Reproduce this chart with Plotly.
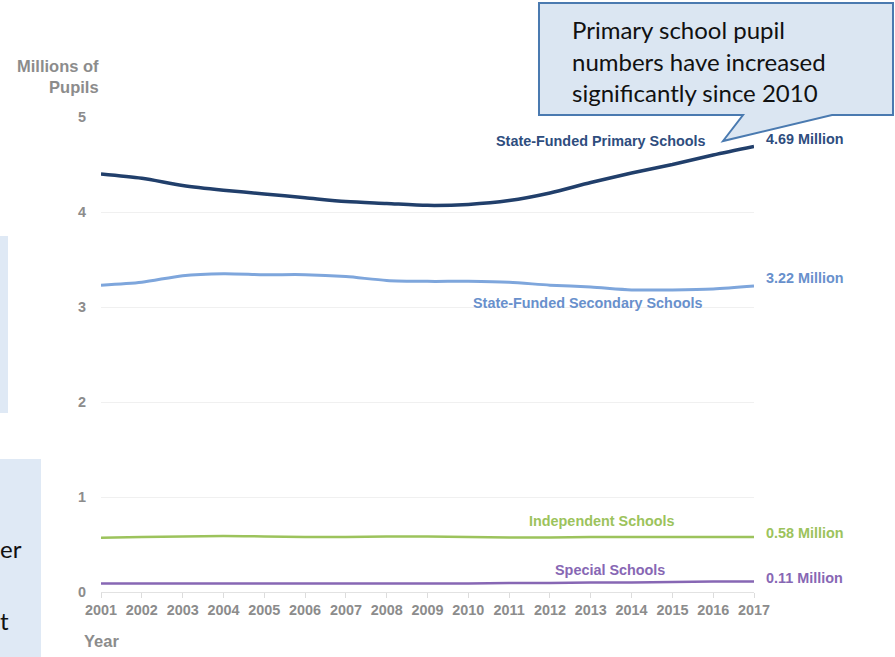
import plotly.graph_objects as go

# ---- data -------------------------------------------------------------
years = list(range(2001, 2018))
primary = [4.40, 4.355, 4.28, 4.23, 4.19, 4.15, 4.11, 4.09, 4.07, 4.08,
           4.12, 4.20, 4.31, 4.41, 4.50, 4.60, 4.69]
secondary = [3.23, 3.26, 3.33, 3.35, 3.34, 3.34, 3.32, 3.28, 3.27, 3.27,
             3.26, 3.23, 3.21, 3.18, 3.18, 3.19, 3.22]
independent = [0.57, 0.58, 0.585, 0.59, 0.585, 0.58, 0.58, 0.585, 0.585, 0.58,
               0.575, 0.575, 0.58, 0.58, 0.58, 0.58, 0.58]
special = [0.09, 0.09, 0.09, 0.09, 0.09, 0.09, 0.09, 0.09, 0.09, 0.09,
           0.095, 0.095, 0.10, 0.10, 0.105, 0.11, 0.11]

series_names = ["State-Funded Primary Schools", "State-Funded Secondary Schools",
                "Independent Schools", "Special Schools"]
y_ticks = [0, 1, 2, 3, 4, 5]
callout_lines = ["Primary school pupil", "numbers have increased",
                 "significantly since 2010"]

# ---- layout geometry (pixels) ----------------------------------------
W, H = 895, 657
PL, PR, PT, PB = 101, 754, 117, 592


def px(x):
    return (x - PL) / (PR - PL)


def py(y):
    return (PB - y) / (PB - PT)


GRAY = "#8c8c8c"
TICKFONT = dict(family="Arial", size=14.4, color=GRAY, weight="bold")
TITLEFONT = dict(family="Arial", size=16.5, color=GRAY, weight="bold")
NOTEFONT = dict(family="Lato", size=24, color="#111111")

series = [
    (series_names[0], primary, "#213f6b", 3.5, "#2e4d7e", 2013.25, 4.75, 7),
    (series_names[1], secondary, "#7ea6dc", 3.0, "#6890cc", 2012.93, 3.04, 8),
    (series_names[2], independent, "#9cc35c", 2.5, "#9cc35c", 2013.28, 0.75, 4),
    (series_names[3], special, "#8767b4", 2.5, "#8767b4", 2013.47, 0.23, 4),
]

fig = go.Figure()
annotations = []
for name, vals, color, width, tcolor, lx, ly, yshift in series:
    fig.add_trace(go.Scatter(
        x=years, y=vals, mode="lines", name=name,
        line=dict(color=color, width=width, shape="spline", smoothing=0.8),
        hoverinfo="skip", showlegend=False,
    ))
    # series name placed beside its line
    annotations.append(dict(
        x=lx, y=ly, xref="x", yref="y", text=name, showarrow=False,
        font=dict(family="Arial", size=14.4, color=tcolor, weight="bold"),
        xanchor="center", yanchor="middle",
    ))
    # end value label
    annotations.append(dict(
        x=years[-1], y=vals[-1], xref="x", yref="y",
        text=f"{vals[-1]:.2f} Million", showarrow=False,
        font=dict(family="Arial", size=14.4, color=tcolor, weight="bold"),
        xanchor="left", yanchor="middle", xshift=10, yshift=yshift,
    ))

# axis titles
annotations.append(dict(
    x=px(101), y=py(77), xref="paper", yref="paper",
    text="Millions of<br>Pupils", showarrow=False, align="right",
    xanchor="right", yanchor="middle", font=TITLEFONT,
))
annotations.append(dict(
    x=px(82), y=py(641), xref="paper", yref="paper",
    text="Year", showarrow=False, xanchor="left", yanchor="middle",
    font=TITLEFONT,
))

# callout text
for i, line in enumerate(callout_lines):
    annotations.append(dict(
        x=px(570), y=py(30 + 31.5 * i), xref="paper", yref="paper",
        text=line, showarrow=False, xanchor="left", yanchor="middle",
        font=NOTEFONT,
    ))

# partially visible side panels' text
annotations.append(dict(
    x=px(-2), y=py(548), xref="paper", yref="paper", text="er",
    showarrow=False, xanchor="left", yanchor="middle", font=NOTEFONT,
))
annotations.append(dict(
    x=px(-2), y=py(620), xref="paper", yref="paper", text="t",
    showarrow=False, xanchor="left", yanchor="middle", font=NOTEFONT,
))

shapes = []
# side panels cut off at the left edge
shapes.append(dict(type="rect", xref="paper", yref="paper",
                   x0=px(-5), x1=px(8), y0=py(236), y1=py(413),
                   fillcolor="#dfe9f5", line=dict(width=0), layer="below"))
shapes.append(dict(type="rect", xref="paper", yref="paper",
                   x0=px(-5), x1=px(41), y0=py(459), y1=py(665),
                   fillcolor="#dfe9f5", line=dict(width=0), layer="below"))

# speech-bubble callout pointing at the primary line
pts = [(539, 3), (893, 3), (893, 115), (832, 115), (723, 141), (743, 115), (539, 115)]
path = "M " + " L ".join(f"{px(x):.5f},{py(y):.5f}" for x, y in pts) + " Z"
shapes.append(dict(type="path", xref="paper", yref="paper", path=path,
                   fillcolor="#dbe6f2", line=dict(color="#4a7ab0", width=2),
                   layer="above"))

fig.update_layout(
    width=W, height=H,
    margin=dict(l=PL, r=W - PR, t=PT, b=H - PB, pad=0),
    paper_bgcolor="white", plot_bgcolor="white",
    annotations=annotations, shapes=shapes,
    xaxis=dict(
        range=[2001, 2017], tickmode="array", tickvals=years,
        ticktext=[str(y) for y in years], tickfont=TICKFONT,
        showgrid=False, zeroline=False, showline=True,
        linecolor="#e2e2e2", linewidth=1,
        ticks="outside", ticklen=5, tickcolor="#dcdcdc", tickwidth=1,
        fixedrange=True,
    ),
    yaxis=dict(
        range=[0, 5], tickmode="array", tickvals=y_ticks,
        ticktext=[str(v) for v in y_ticks], tickfont=TICKFONT,
        showgrid=True, gridcolor="#f0f0f0", gridwidth=1,
        zeroline=False, showline=False, ticks="",
        ticklabelstandoff=14, fixedrange=True,
    ),
)

fig.write_html("out.html")
